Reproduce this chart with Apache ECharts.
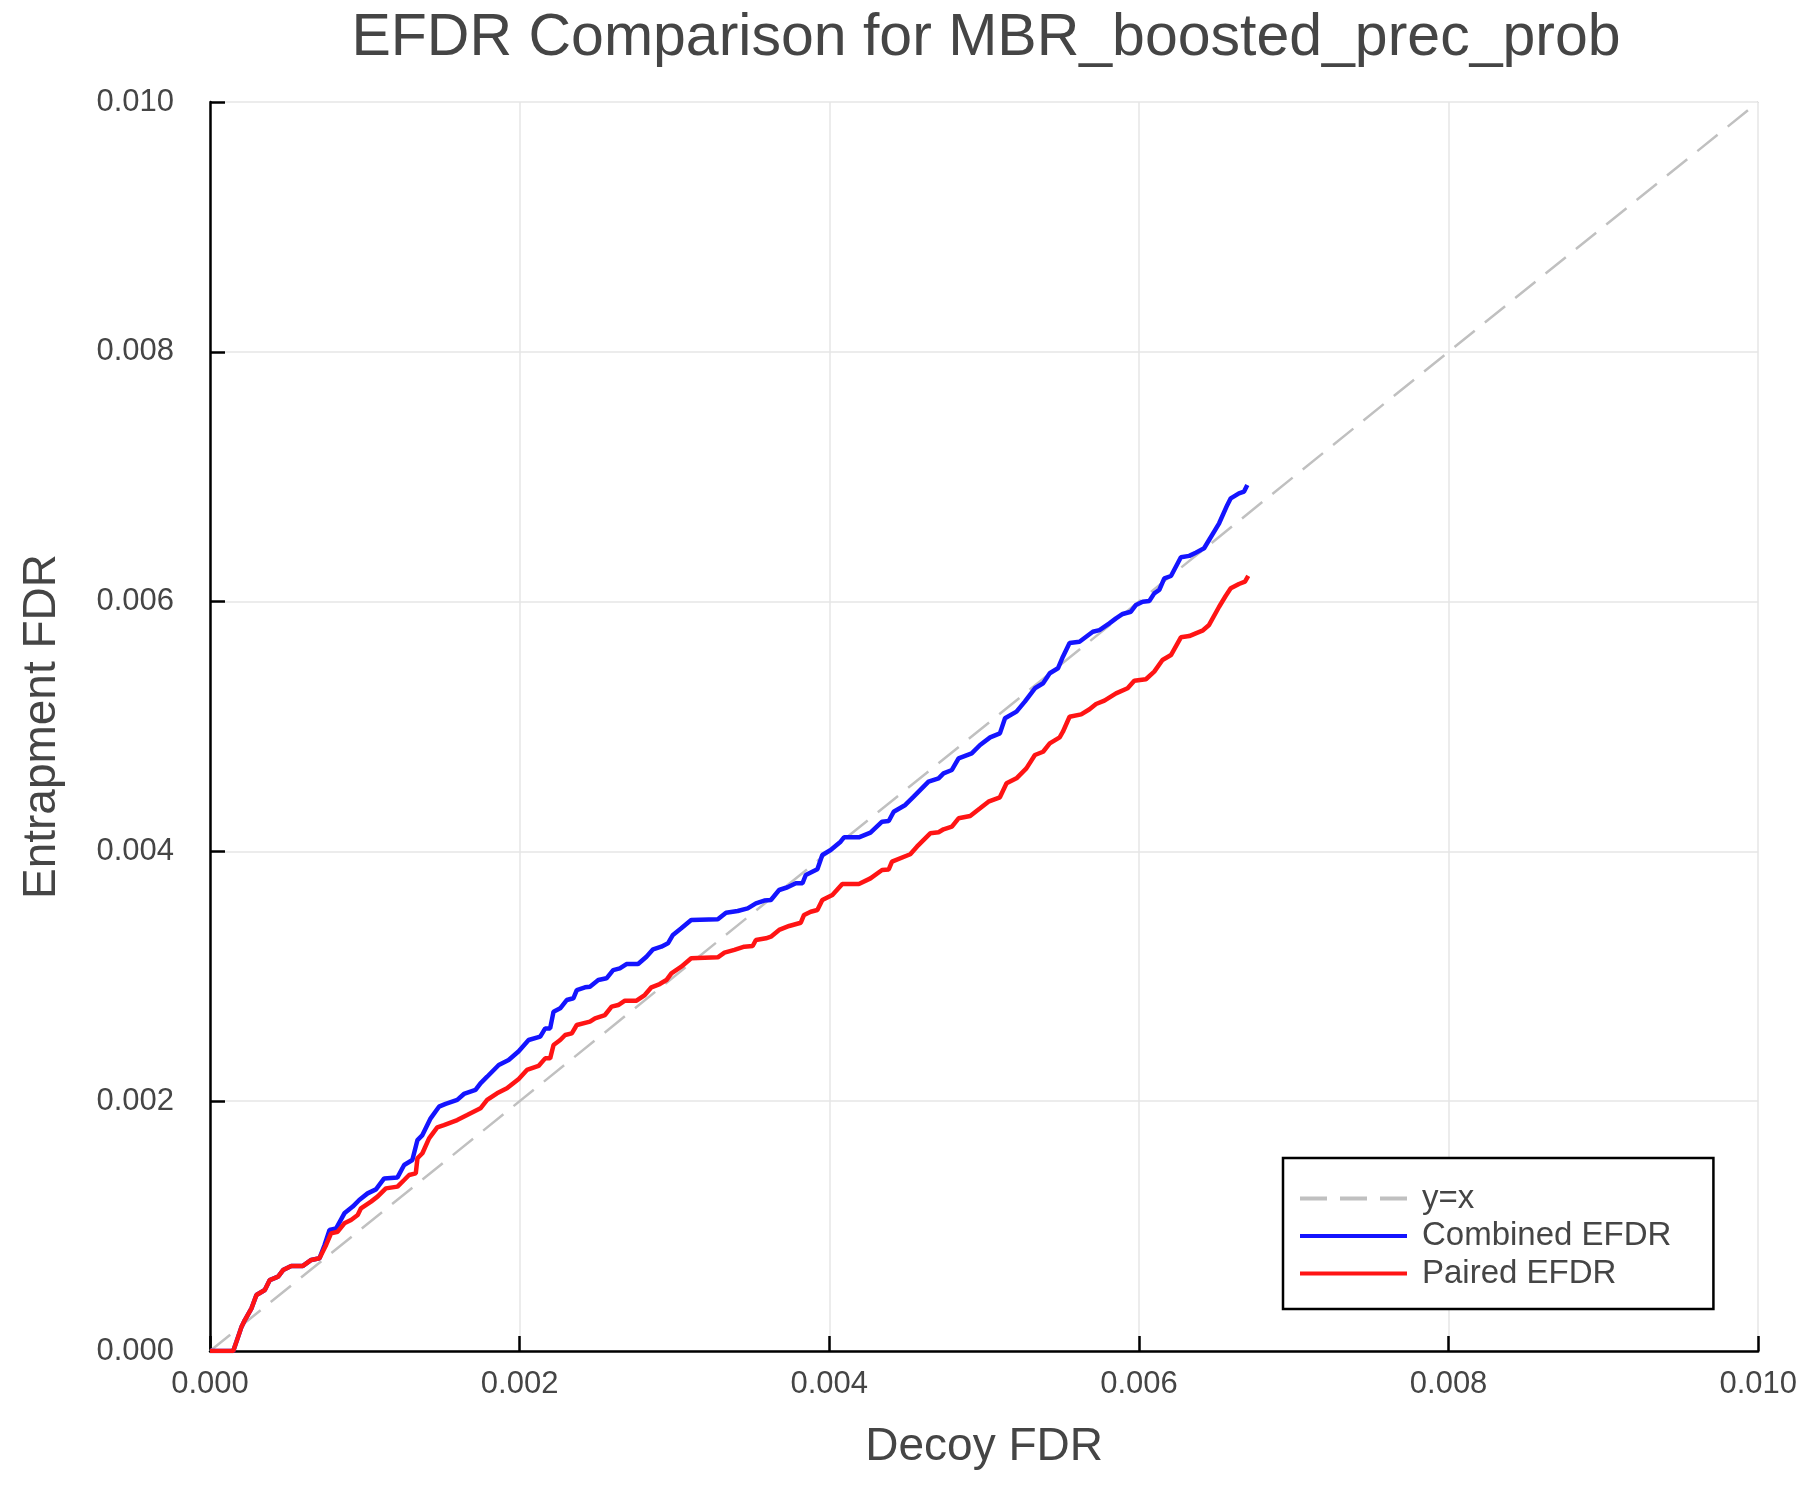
<!DOCTYPE html>
<html>
<head>
<meta charset="utf-8">
<script src="https://cdn.jsdelivr.net/npm/echarts@6/dist/echarts.min.js"></script>
<style>
html,body{margin:0;padding:0;background:#fff;}
#chart{width:1800px;height:1500px;}
</style>
</head>
<body>
<div id="chart"></div>
<script>
const chartTitle = 'EFDR Comparison for MBR_boosted_prec_prob';
const xAxisTitle = 'Decoy FDR';
const yAxisTitle = 'Entrapment FDR';
const seriesNames = ['y=x', 'Combined EFDR', 'Paired EFDR'];

const diagX = [0, 0.010];
const diagY = [0, 0.010];

const combinedX = [0, 0.150e-3, 0.171e-3, 0.204e-3, 0.225e-3, 0.268e-3, 0.300e-3, 0.354e-3, 0.386e-3, 0.440e-3,
  0.472e-3, 0.525e-3, 0.600e-3, 0.654e-3, 0.707e-3, 0.740e-3, 0.772e-3, 0.815e-3, 0.868e-3, 0.922e-3,
  0.964e-3, 1.018e-3, 1.072e-3, 1.125e-3, 1.211e-3, 1.254e-3, 1.307e-3, 1.340e-3, 1.372e-3, 1.425e-3,
  1.479e-3, 1.522e-3, 1.597e-3, 1.640e-3, 1.715e-3, 1.747e-3, 1.790e-3, 1.865e-3, 1.929e-3, 1.994e-3,
  2.058e-3, 2.133e-3, 2.165e-3, 2.197e-3, 2.219e-3, 2.262e-3, 2.304e-3, 2.347e-3, 2.369e-3, 2.422e-3,
  2.454e-3, 2.508e-3, 2.561e-3, 2.604e-3, 2.647e-3, 2.690e-3, 2.765e-3, 2.819e-3, 2.862e-3, 2.915e-3,
  2.958e-3, 2.990e-3, 3.044e-3, 3.108e-3, 3.280e-3, 3.333e-3, 3.408e-3, 3.473e-3, 3.526e-3, 3.580e-3,
  3.623e-3, 3.676e-3, 3.730e-3, 3.784e-3, 3.827e-3, 3.848e-3, 3.923e-3, 3.955e-3, 4.009e-3, 4.073e-3,
  4.095e-3, 4.191e-3, 4.266e-3, 4.341e-3, 4.384e-3, 4.416e-3, 4.491e-3, 4.545e-3, 4.641e-3, 4.706e-3,
  4.738e-3, 4.792e-3, 4.835e-3, 4.920e-3, 4.974e-3, 5.039e-3, 5.102e-3, 5.135e-3, 5.209e-3, 5.263e-3,
  5.328e-3, 5.381e-3, 5.424e-3, 5.477e-3, 5.509e-3, 5.552e-3, 5.616e-3, 5.659e-3, 5.702e-3, 5.745e-3,
  5.809e-3, 5.852e-3, 5.895e-3, 5.948e-3, 5.981e-3, 6.024e-3, 6.067e-3, 6.099e-3, 6.131e-3, 6.164e-3,
  6.207e-3, 6.271e-3, 6.325e-3, 6.367e-3, 6.421e-3, 6.453e-3, 6.518e-3, 6.571e-3, 6.593e-3, 6.646e-3,
  6.679e-3, 6.700e-3];
const combinedY = [0, 0, 0.075e-3, 0.195e-3, 0.248e-3, 0.342e-3, 0.448e-3, 0.488e-3, 0.568e-3, 0.595e-3,
  0.648e-3, 0.681e-3, 0.681e-3, 0.729e-3, 0.742e-3, 0.849e-3, 0.969e-3, 0.982e-3, 1.102e-3, 1.156e-3,
  1.209e-3, 1.262e-3, 1.294e-3, 1.382e-3, 1.390e-3, 1.489e-3, 1.529e-3, 1.689e-3, 1.729e-3, 1.863e-3,
  1.956e-3, 1.978e-3, 2.010e-3, 2.058e-3, 2.090e-3, 2.143e-3, 2.196e-3, 2.290e-3, 2.330e-3, 2.400e-3,
  2.490e-3, 2.517e-3, 2.583e-3, 2.583e-3, 2.717e-3, 2.744e-3, 2.810e-3, 2.824e-3, 2.890e-3, 2.912e-3,
  2.917e-3, 2.970e-3, 2.984e-3, 3.050e-3, 3.064e-3, 3.098e-3, 3.098e-3, 3.157e-3, 3.216e-3, 3.237e-3,
  3.264e-3, 3.331e-3, 3.384e-3, 3.451e-3, 3.456e-3, 3.509e-3, 3.523e-3, 3.544e-3, 3.584e-3, 3.606e-3,
  3.611e-3, 3.691e-3, 3.713e-3, 3.745e-3, 3.745e-3, 3.811e-3, 3.857e-3, 3.971e-3, 4.011e-3, 4.078e-3,
  4.113e-3, 4.113e-3, 4.150e-3, 4.238e-3, 4.243e-3, 4.318e-3, 4.372e-3, 4.438e-3, 4.558e-3, 4.585e-3,
  4.625e-3, 4.652e-3, 4.745e-3, 4.785e-3, 4.852e-3, 4.913e-3, 4.945e-3, 5.066e-3, 5.119e-3, 5.199e-3,
  5.306e-3, 5.346e-3, 5.426e-3, 5.466e-3, 5.559e-3, 5.668e-3, 5.679e-3, 5.719e-3, 5.759e-3, 5.772e-3,
  5.826e-3, 5.866e-3, 5.901e-3, 5.919e-3, 5.973e-3, 5.999e-3, 6.005e-3, 6.066e-3, 6.093e-3, 6.186e-3,
  6.205e-3, 6.355e-3, 6.366e-3, 6.392e-3, 6.427e-3, 6.493e-3, 6.627e-3, 6.774e-3, 6.827e-3, 6.867e-3,
  6.881e-3, 6.933e-3];

const pairedX = [0, 0.150e-3, 0.171e-3, 0.204e-3, 0.225e-3, 0.268e-3, 0.300e-3, 0.354e-3, 0.386e-3, 0.440e-3,
  0.472e-3, 0.525e-3, 0.600e-3, 0.654e-3, 0.707e-3, 0.750e-3, 0.782e-3, 0.825e-3, 0.868e-3, 0.911e-3,
  0.954e-3, 0.975e-3, 1.040e-3, 1.082e-3, 1.136e-3, 1.211e-3, 1.254e-3, 1.286e-3, 1.329e-3, 1.340e-3,
  1.372e-3, 1.415e-3, 1.468e-3, 1.511e-3, 1.597e-3, 1.661e-3, 1.747e-3, 1.790e-3, 1.854e-3, 1.918e-3,
  1.994e-3, 2.047e-3, 2.122e-3, 2.165e-3, 2.197e-3, 2.219e-3, 2.262e-3, 2.294e-3, 2.337e-3, 2.369e-3,
  2.454e-3, 2.487e-3, 2.551e-3, 2.594e-3, 2.637e-3, 2.680e-3, 2.755e-3, 2.808e-3, 2.851e-3, 2.905e-3,
  2.948e-3, 2.980e-3, 3.044e-3, 3.108e-3, 3.280e-3, 3.323e-3, 3.387e-3, 3.451e-3, 3.505e-3, 3.526e-3,
  3.591e-3, 3.623e-3, 3.676e-3, 3.741e-3, 3.816e-3, 3.837e-3, 3.880e-3, 3.923e-3, 3.955e-3, 4.020e-3,
  4.084e-3, 4.191e-3, 4.266e-3, 4.341e-3, 4.384e-3, 4.405e-3, 4.523e-3, 4.566e-3, 4.652e-3, 4.706e-3,
  4.738e-3, 4.792e-3, 4.835e-3, 4.910e-3, 4.974e-3, 5.028e-3, 5.102e-3, 5.145e-3, 5.209e-3, 5.273e-3,
  5.328e-3, 5.381e-3, 5.424e-3, 5.488e-3, 5.509e-3, 5.552e-3, 5.627e-3, 5.681e-3, 5.723e-3, 5.777e-3,
  5.852e-3, 5.927e-3, 5.970e-3, 6.045e-3, 6.099e-3, 6.152e-3, 6.207e-3, 6.271e-3, 6.325e-3, 6.367e-3,
  6.410e-3, 6.453e-3, 6.518e-3, 6.560e-3, 6.593e-3, 6.646e-3, 6.685e-3, 6.706e-3];
const pairedY = [0, 0, 0.075e-3, 0.195e-3, 0.248e-3, 0.342e-3, 0.448e-3, 0.488e-3, 0.568e-3, 0.595e-3,
  0.648e-3, 0.681e-3, 0.681e-3, 0.729e-3, 0.742e-3, 0.849e-3, 0.942e-3, 0.955e-3, 1.022e-3, 1.049e-3,
  1.089e-3, 1.142e-3, 1.196e-3, 1.236e-3, 1.302e-3, 1.316e-3, 1.369e-3, 1.409e-3, 1.422e-3, 1.543e-3,
  1.583e-3, 1.703e-3, 1.791e-3, 1.809e-3, 1.849e-3, 1.889e-3, 1.943e-3, 2.010e-3, 2.063e-3, 2.103e-3,
  2.178e-3, 2.250e-3, 2.282e-3, 2.343e-3, 2.343e-3, 2.450e-3, 2.490e-3, 2.530e-3, 2.543e-3, 2.610e-3,
  2.637e-3, 2.664e-3, 2.690e-3, 2.757e-3, 2.770e-3, 2.805e-3, 2.805e-3, 2.850e-3, 2.912e-3, 2.938e-3,
  2.970e-3, 3.024e-3, 3.077e-3, 3.144e-3, 3.152e-3, 3.189e-3, 3.211e-3, 3.237e-3, 3.243e-3, 3.291e-3,
  3.304e-3, 3.317e-3, 3.371e-3, 3.403e-3, 3.429e-3, 3.491e-3, 3.517e-3, 3.531e-3, 3.611e-3, 3.651e-3,
  3.739e-3, 3.739e-3, 3.784e-3, 3.851e-3, 3.856e-3, 3.918e-3, 3.977e-3, 4.038e-3, 4.145e-3, 4.153e-3,
  4.177e-3, 4.198e-3, 4.265e-3, 4.283e-3, 4.345e-3, 4.398e-3, 4.433e-3, 4.545e-3, 4.585e-3, 4.665e-3,
  4.772e-3, 4.798e-3, 4.865e-3, 4.913e-3, 4.958e-3, 5.078e-3, 5.097e-3, 5.138e-3, 5.180e-3, 5.207e-3,
  5.265e-3, 5.306e-3, 5.367e-3, 5.378e-3, 5.439e-3, 5.532e-3, 5.572e-3, 5.714e-3, 5.724e-3, 5.746e-3,
  5.767e-3, 5.813e-3, 5.959e-3, 6.045e-3, 6.107e-3, 6.141e-3, 6.160e-3, 6.205e-3];

const pairs = (xs, ys) => xs.map((x, i) => [x, ys[i]]);
const textColor = '#454545';
const fontFamily = 'Liberation Sans, Arial, Helvetica, sans-serif';
const dashedIcon = 'path://M0,0H27V4H0Z M40,0H67V4H40Z M80,0H107V4H80Z';
const solidIcon = 'path://M0,0H107V4H0Z';

const chart = echarts.init(document.getElementById('chart'), null, {renderer: 'canvas'});
const axisCommon = {
  type: 'value', min: 0, max: 0.010, interval: 0.002,
  axisLine: {show: true, onZero: false, lineStyle: {color: '#000', width: 2.5}},
  axisTick: {show: true, inside: true, length: 15, lineStyle: {color: '#000', width: 2.5}},
  splitLine: {show: true, lineStyle: {color: '#e6e6e6', width: 1.5}},
  axisLabel: {color: textColor, fontSize: 31, fontFamily: fontFamily, formatter: v => v.toFixed(3), showMinLabel: true, showMaxLabel: true},
  nameLocation: 'middle',
  nameTextStyle: {color: textColor, fontFamily: fontFamily}
};
chart.setOption({
  animation: false,
  backgroundColor: '#fff',
  title: {
    text: chartTitle, left: 981, textAlign: 'center', top: 4,
    textStyle: {color: textColor, fontSize: 59, fontWeight: 'normal', fontFamily: fontFamily}
  },
  grid: {left: 210, top: 102, width: 1555, height: 1249, containLabel: false},
  xAxis: Object.assign({}, axisCommon, {
    name: xAxisTitle, nameGap: 73,
    axisLabel: Object.assign({}, axisCommon.axisLabel, {margin: 18}),
    nameTextStyle: {color: textColor, fontFamily: fontFamily, fontSize: 46}
  }),
  yAxis: Object.assign({}, axisCommon, {
    name: yAxisTitle, nameGap: 145, nameRotate: 90,
    axisLabel: Object.assign({}, axisCommon.axisLabel, {margin: 36}),
    nameTextStyle: {color: textColor, fontFamily: fontFamily, fontSize: 46}
  }),
  legend: {
    orient: 'vertical', left: 1283, top: 1158,
    padding: [24, 42, 19, 17],
    backgroundColor: '#fff', borderColor: '#000', borderWidth: 2.5, borderRadius: 0,
    itemWidth: 107, itemHeight: 4, itemGap: 4.5,
    textStyle: {color: textColor, fontSize: 33, fontFamily: fontFamily, lineHeight: 30, padding: [0, 0, 0, 10]},
    data: [
      {name: seriesNames[0], icon: dashedIcon},
      {name: seriesNames[1], icon: solidIcon},
      {name: seriesNames[2], icon: solidIcon}
    ]
  },
  series: [
    {name: seriesNames[0], type: 'line', data: pairs(diagX, diagY), symbol: 'none', z: 1,
     lineStyle: {color: '#c0c0c0', width: 2.5, type: [26, 13]}, itemStyle: {color: '#c0c0c0'}},
    {name: seriesNames[1], type: 'line', data: pairs(combinedX, combinedY), symbol: 'none', z: 2,
     lineStyle: {color: '#1414ff', width: 4.5}, itemStyle: {color: '#1414ff'}},
    {name: seriesNames[2], type: 'line', data: pairs(pairedX, pairedY), symbol: 'none', z: 3,
     lineStyle: {color: '#ff1414', width: 4.5}, itemStyle: {color: '#ff1414'}}
  ]
});
</script>
</body>
</html>
